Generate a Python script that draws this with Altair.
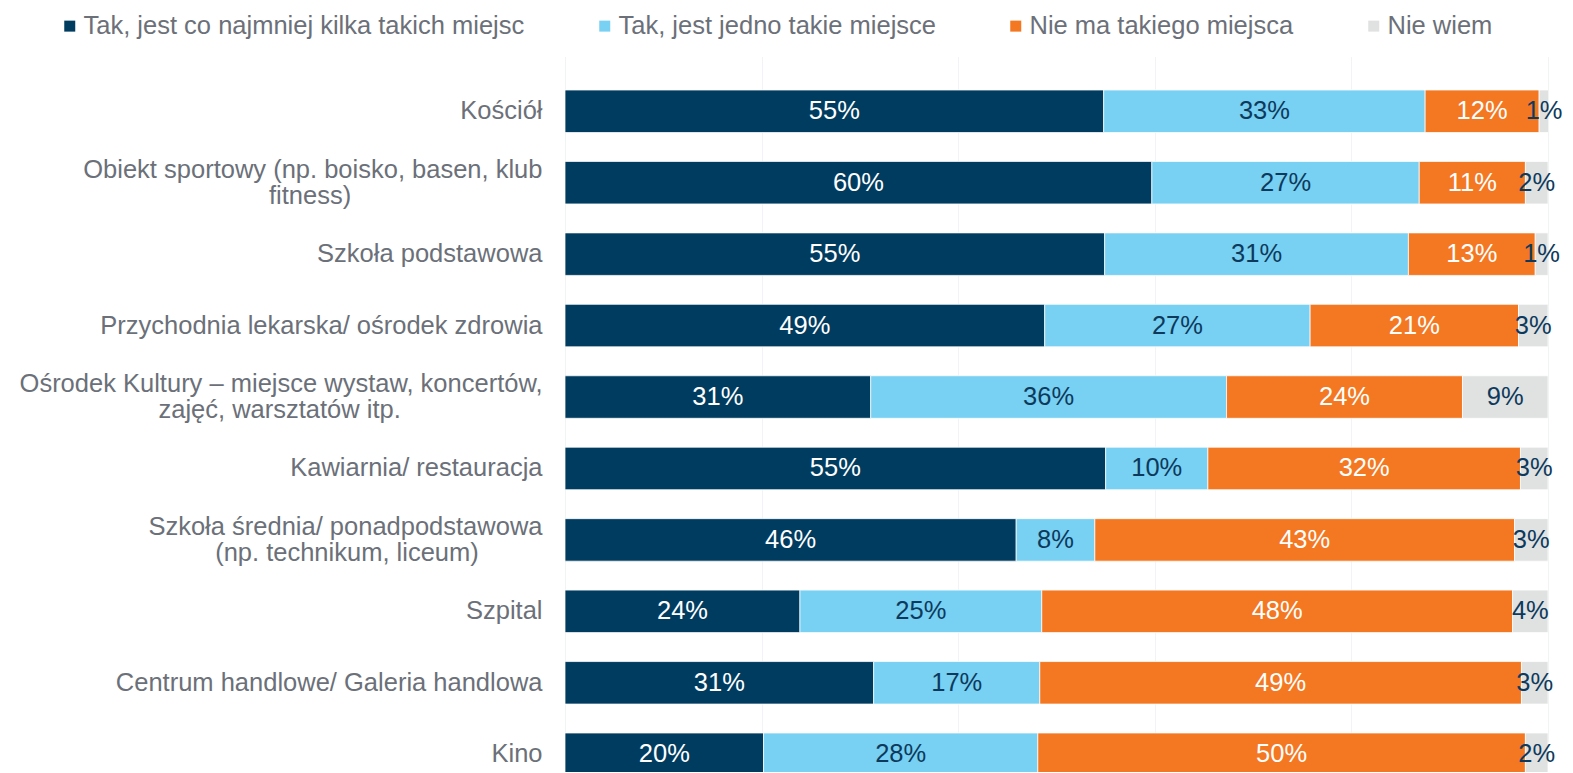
import altair as alt
import pandas as pd

NB = "\u00a0"
ZW = "\u200b"

categories = [
    "Kościół",
    "Obiekt sportowy (np. boisko, basen, klub|fitness)" + NB * 27 + ZW,
    "Szkoła podstawowa",
    "Przychodnia lekarska/ ośrodek zdrowia",
    "Ośrodek Kultury – miejsce wystaw, koncertów,|zajęć, warsztatów itp." + NB * 20 + ZW,
    "Kawiarnia/ restauracja",
    "Szkoła średnia/ ponadpodstawowa|(np. technikum, liceum)" + NB * 9 + ZW,
    "Szpital",
    "Centrum handlowe/ Galeria handlowa",
    "Kino",
]

series = [
    "Tak, jest co najmniej kilka takich miejsc",
    "Tak, jest jedno takie miejsce",
    "Nie ma takiego miejsca",
    "Nie wiem",
]

several = [54.8, 59.7, 54.9, 48.8, 31.1, 55.0, 45.9, 23.9, 31.4, 20.2]
one = [32.7, 27.2, 30.9, 27.0, 36.2, 10.4, 8.0, 24.6, 16.9, 27.9]
none_ = [11.6, 10.8, 12.9, 21.2, 24.0, 31.8, 42.7, 47.9, 49.0, 49.6]
dont_know = [1.0, 2.3, 1.3, 3.0, 8.7, 2.8, 3.4, 3.6, 2.7, 2.3]

colors = ["#003c5f", "#78d0f2", "#f47721", "#e0e1e1"]
GRAY_TXT = "#6b7079"
NAVY_TXT = "#0d3a5c"
FONT = "Liberation Sans"
FS = 25.5

vals = [several, one, none_, dont_know]
rows = []
for i, c in enumerate(categories):
    for j, s in enumerate(series):
        rows.append({"cat": c, "series": s, "order": j, "value": vals[j][i]})
df = pd.DataFrame(rows)

base = (
    alt.Chart(df)
    .transform_stack(
        stack="value",
        groupby=["cat"],
        sort=[alt.SortField("order", order="ascending")],
        as_=["x0", "x1"],
    )
    .transform_calculate(
        mid="(datum.x0 + datum.x1) / 2",
        label="format(datum.value, '.0f') + '%'",
        tcolor=f"(datum.order == 0 || datum.order == 2) ? 'white' : '{NAVY_TXT}'",
    )
)

y = alt.Y(
    "cat:N",
    sort=categories,
    scale=alt.Scale(range=[30, 715.5], paddingInner=0.405, paddingOuter=0),
    axis=alt.Axis(
        title=None,
        labelExpr="split(datum.label, '|')",
        labelFontSize=FS,
        labelFont=FONT,
        labelColor=GRAY_TXT,
        labelPadding=23,
        ticks=False,
        domain=False,
        labelLimit=1000,
        labelLineHeight=26,
        labelOffset={
            "condition": {"test": "indexof(datum.value, '|') >= 0", "value": -13},
            "value": 0,
        },
    ),
)

bars = base.mark_bar(clip=True, stroke="white", strokeWidth=0.75).encode(
    x=alt.X(
        "x0:Q",
        scale=alt.Scale(domain=[0, 100], nice=False, zero=True),
        axis=alt.Axis(
            title=None,
            labels=False,
            ticks=False,
            domain=False,
            grid=True,
            gridColor="#f1f3f5",
            values=[0, 20, 40, 60, 80, 100],
        ),
    ),
    x2="x1:Q",
    y=y,
    color=alt.Color(
        "series:N",
        sort=series,
        scale=alt.Scale(domain=series, range=colors),
        legend=alt.Legend(
            title=None,
            orient="none",
            legendX=-508,
            legendY=-47,
            direction="horizontal",
            columns=4,
            symbolType="square",
            symbolSize=121,
            symbolStrokeWidth=0,
            labelFontSize=FS,
            labelFont=FONT,
            labelColor=GRAY_TXT,
            labelOffset=1,
            columnPadding=67,
            labelLimit=1000,
            padding=0,
        ),
    ),
)

text = base.mark_text(fontSize=FS, font=FONT).encode(
    x=alt.X("mid:Q"),
    y=y,
    text="label:N",
    fill=alt.Fill("tcolor:N", scale=None, legend=None),
)

chart = (
    alt.layer(bars, text)
    .properties(
        width=983,
        height=712,
        autosize=alt.AutoSizeParams(type="none"),
        padding={"left": 557, "top": 52, "right": 17, "bottom": 0},
    )
    .configure_view(stroke=None)
)

chart.save("out.html", embed_options={"renderer": "svg", "actions": False})
